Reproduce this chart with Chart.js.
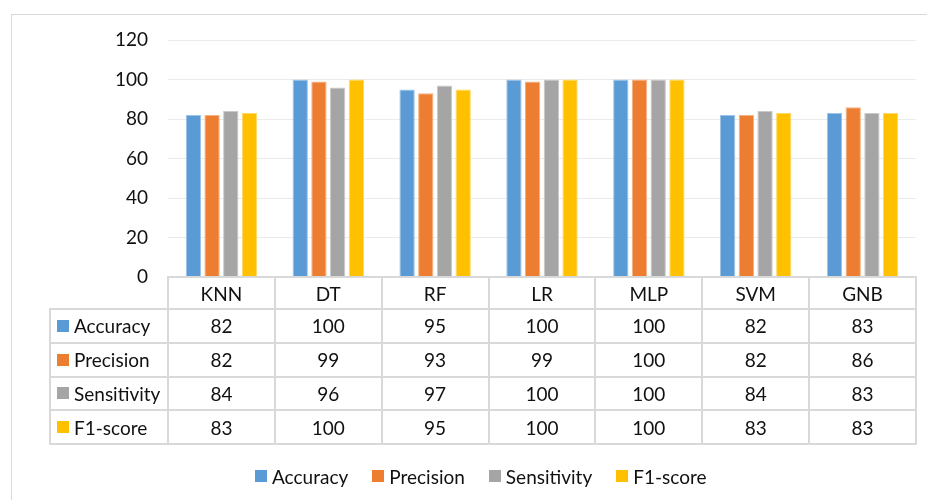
<!DOCTYPE html>
<html>
<head>
<meta charset="utf-8">
<script src="https://cdn.jsdelivr.net/npm/chart.js@4.4.1/dist/chart.umd.min.js"></script>
<style>
  html, body { margin:0; padding:0; width:927px; height:500px; overflow:hidden; background:#fff; }
  body { position:relative; font-family: Lato, "Open Sans", sans-serif; }
  #frame { position:absolute; left:11px; top:14px; width:960px; height:520px; border:1px solid #d9d9d9; box-sizing:border-box; }
  canvas { position:absolute; left:0; top:0; }
  .cell { position:absolute; box-sizing:border-box; border:2px solid #d9d9d9; display:flex; align-items:center; justify-content:center; font-size:19px; color:#111; line-height:1; }
  .rowhead { justify-content:flex-start; padding-left:6px; }
  .sw { width:12px; height:12px; display:inline-block; margin-right:5px; flex:none; }
  #legend { position:absolute; top:466px; left:255px; height:20px; display:flex; align-items:center; font-size:19px; color:#111; white-space:nowrap; line-height:1; }
  #legend .item { display:flex; align-items:center; margin-right:24px; }
</style>
</head>
<body>
<div id="frame"></div>
<canvas id="c" width="927" height="500"></canvas>
<div id="table"></div>
<div id="legend"></div>
<script>
const categories = ['KNN', 'DT', 'RF', 'LR', 'MLP', 'SVM', 'GNB'];
const seriesNames = ['Accuracy', 'Precision', 'Sensitivity', 'F1-score'];
const accuracy    = [82, 100, 95, 100, 100, 82, 83];
const precision   = [82, 99, 93, 99, 100, 82, 86];
const sensitivity = [84, 96, 97, 100, 100, 84, 83];
const f1score     = [83, 100, 95, 100, 100, 83, 83];
const yTicks = [0, 20, 40, 60, 80, 100, 120];

const colors = ['#5B9BD5', '#ED7D31', '#A5A5A5', '#FFC000'];
const borders = ['#9DC3E6', '#F4B183', '#C9C9C9', '#FFD966'];
const seriesValues = [accuracy, precision, sensitivity, f1score];

const datasets = seriesNames.map((name, i) => ({
  label: name,
  data: seriesValues[i],
  backgroundColor: colors[i],
  borderColor: borders[i],
  borderWidth: 1,
  borderSkipped: 'bottom',
  categoryPercentage: 0.70,
  barPercentage: 0.82
}));

const chart = new Chart(document.getElementById('c'), {
  type: 'bar',
  data: { labels: categories, datasets },
  options: {
    responsive: false,
    animation: false,
    layout: { padding: { left: 0, top: 40, right: 11, bottom: 223 } },
    plugins: { legend: { display: false }, tooltip: { enabled: false } },
    scales: {
      x: { display: false },
      y: {
        min: yTicks[0], max: yTicks[yTicks.length - 1],
        afterFit: s => { s.width = 168; },
        afterBuildTicks: s => { s.ticks = yTicks.map(v => ({ value: v })); },
        grid: { color: '#ebebeb', lineWidth: 1, drawTicks: false },
        border: { display: false },
        ticks: { padding: 20, color: '#111', font: { family: 'Lato', size: 19 } }
      }
    }
  }
});

// Data table below the plot, aligned to the category scale
const area = chart.chartArea;
const xs = chart.scales.x;
const catW = (area.right - area.left) / categories.length;
const tbl = document.getElementById('table');
const headerH = 32, rowH = 33.75, rowHeadLeft = 50;
function cell(x, y, w, h, html, cls) {
  const d = document.createElement('div');
  d.className = 'cell' + (cls ? ' ' + cls : '');
  d.style.left = x + 'px'; d.style.top = y + 'px';
  d.style.width = (w + 2) + 'px'; d.style.height = (h + 2) + 'px';
  d.innerHTML = html;
  tbl.appendChild(d);
}
const top0 = area.bottom - 1;
categories.forEach((c, j) => {
  const cx = xs.getPixelForValue(j) - catW / 2 - 1;
  cell(cx, top0, catW, headerH, c);
  seriesValues.forEach((vals, i) => {
    cell(cx, top0 + headerH + i * rowH, catW, rowH, String(vals[j]));
  });
});
seriesNames.forEach((name, i) => {
  cell(rowHeadLeft - 1, top0 + headerH + i * rowH, area.left - rowHeadLeft, rowH,
    '<span class="sw" style="background:' + colors[i] + '"></span>' + name, 'rowhead');
});

// Legend
const lg = document.getElementById('legend');
seriesNames.forEach((name, i) => {
  const it = document.createElement('div');
  it.className = 'item';
  it.innerHTML = '<span class="sw" style="background:' + colors[i] + '"></span>' + name;
  lg.appendChild(it);
});
</script>
</body>
</html>
